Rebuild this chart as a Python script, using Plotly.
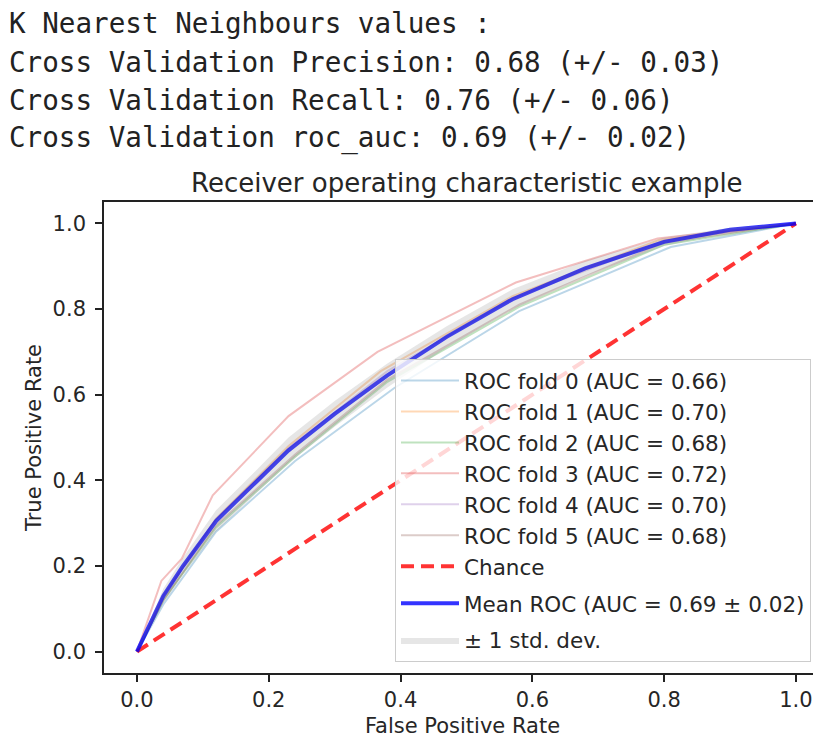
import plotly.graph_objects as go

# ---------------- data ----------------
header_lines = [
    "K Nearest Neighbours values :",
    "Cross Validation Precision: 0.68 (+/- 0.03)",
    "Cross Validation Recall: 0.76 (+/- 0.06)",
    "Cross Validation roc_auc: 0.69 (+/- 0.02)",
]

fold_names = [
    "ROC fold 0 (AUC = 0.66)",
    "ROC fold 1 (AUC = 0.70)",
    "ROC fold 2 (AUC = 0.68)",
    "ROC fold 3 (AUC = 0.72)",
    "ROC fold 4 (AUC = 0.70)",
    "ROC fold 5 (AUC = 0.68)",
]
fold0_fpr = [0, 0.04, 0.12, 0.24, 0.39, 0.58, 0.81, 1.0]
fold0_tpr = [0, 0.11, 0.28, 0.445, 0.615, 0.795, 0.945, 1.0]
fold1_fpr = [0, 0.04, 0.12, 0.23, 0.37, 0.57, 0.79, 1.0]
fold1_tpr = [0, 0.13, 0.31, 0.48, 0.655, 0.83, 0.96, 1.0]
fold2_fpr = [0, 0.04, 0.12, 0.24, 0.38, 0.58, 0.80, 1.0]
fold2_tpr = [0, 0.12, 0.29, 0.455, 0.63, 0.805, 0.95, 1.0]
fold3_fpr = [0, 0.037, 0.068, 0.115, 0.23, 0.365, 0.575, 0.79, 1.0]
fold3_tpr = [0, 0.165, 0.217, 0.365, 0.55, 0.70, 0.862, 0.965, 1.0]
fold4_fpr = [0, 0.04, 0.12, 0.23, 0.38, 0.57, 0.80, 1.0]
fold4_tpr = [0, 0.13, 0.31, 0.475, 0.655, 0.825, 0.96, 1.0]
fold5_fpr = [0, 0.04, 0.12, 0.24, 0.38, 0.58, 0.80, 1.0]
fold5_tpr = [0, 0.12, 0.295, 0.46, 0.635, 0.81, 0.955, 1.0]

chance_x = [0, 1]
chance_y = [0, 1]

mean_fpr = [0, 0.04, 0.07, 0.12, 0.18, 0.23, 0.30, 0.38, 0.47, 0.57, 0.68, 0.80, 0.90, 1.0]
mean_tpr = [0, 0.13, 0.20, 0.305, 0.395, 0.47, 0.555, 0.645, 0.735, 0.823, 0.895, 0.957, 0.985, 1.0]
std_tpr = [0, 0.017, 0.02, 0.025, 0.027, 0.03, 0.03, 0.028, 0.025, 0.023, 0.018, 0.01, 0.005, 0]

mean_label = "Mean ROC (AUC = 0.69 \u00b1 0.02)"
std_label = "\u00b1 1 std. dev."
chance_label = "Chance"

fold_colors = ["#1f77b4", "#ff7f0e", "#2ca02c", "#d62728", "#9467bd", "#8c564b"]

# ---------------- layout geometry ----------------
# the page body has an 8px margin, so figure pixel = reference pixel - 8
OFF = 8
W, H = 813, 738
L, R, T, B = 104 - OFF, 0, 202 - OFF, 73
PW = W - L - R
PH = H - T - B
x_px_per_unit = 659.0
x_range = [-0.05, -0.05 + PW / x_px_per_unit]


def px_x(px):  # reference page pixel -> paper x
    return (px - OFF - L) / PW


def px_y(py):  # reference page pixel -> paper y
    return (H - B - (py - OFF)) / PH


FONT = "DejaVu Sans"
TXT = "#262626"
FS = 21
LFS = 21.5

fig = go.Figure()

folds_x = [fold0_fpr, fold1_fpr, fold2_fpr, fold3_fpr, fold4_fpr, fold5_fpr]
folds_y = [fold0_tpr, fold1_tpr, fold2_tpr, fold3_tpr, fold4_tpr, fold5_tpr]
for i, (fx, fy) in enumerate(zip(folds_x, folds_y)):
    c = fold_colors[i]
    r, g, b = int(c[1:3], 16), int(c[3:5], 16), int(c[5:7], 16)
    fig.add_trace(go.Scatter(
        x=fx, y=fy, mode="lines", name=fold_names[i], legendgroup="a",
        line=dict(color=f"rgba({r},{g},{b},0.3)", width=2),
    ))

fig.add_trace(go.Scatter(
    x=chance_x, y=chance_y, mode="lines", name=chance_label, legendgroup="a",
    line=dict(color="rgba(255,0,0,0.8)", width=4, dash="13px,7px"),
))

fig.add_trace(go.Scatter(
    x=mean_fpr, y=mean_tpr, mode="lines", name=mean_label, legendgroup="m",
    line=dict(color="rgba(0,0,255,0.8)", width=4),
))

lower = [max(m - s, 0) for m, s in zip(mean_tpr, std_tpr)]
upper = [min(m + s, 1) for m, s in zip(mean_tpr, std_tpr)]
fig.add_trace(go.Scatter(
    x=mean_fpr, y=lower, mode="lines", line=dict(width=0, color="rgba(128,128,128,0)"),
    showlegend=False, legendgroup="s", hoverinfo="skip",
))
fig.add_trace(go.Scatter(
    x=mean_fpr, y=upper, mode="lines", fill="tonexty", name=std_label, legendgroup="s",
    fillcolor="rgba(128,128,128,0.2)", line=dict(width=0, color="rgba(128,128,128,0)"),
))

annotations = []
line_centers = [23, 62, 100, 138]
for text, cy in zip(header_lines, line_centers):
    annotations.append(dict(
        text=text, xref="paper", yref="paper", x=px_x(7), y=px_y(cy),
        xanchor="left", yanchor="middle", showarrow=False,
        font=dict(family="DejaVu Sans Mono", size=27.6, color="#222"),
    ))

annotations.append(dict(
    text="Receiver operating characteristic example", xref="paper", yref="paper",
    x=px_x(467), y=px_y(183), xanchor="center", yanchor="middle", showarrow=False,
    font=dict(family=FONT, size=26, color=TXT),
))

fig.update_layout(
    width=W, height=H,
    margin=dict(l=L, r=R, t=T, b=B, pad=0, autoexpand=False),
    paper_bgcolor="white", plot_bgcolor="white",
    font=dict(family=FONT, size=FS, color=TXT),
    annotations=annotations,
    showlegend=True,
    legend=dict(
        x=px_x(395), y=px_y(662), xanchor="left", yanchor="bottom",
        bgcolor="rgba(255,255,255,0.8)", bordercolor="#cccccc", borderwidth=1,
        font=dict(family=FONT, size=LFS, color=TXT),
        tracegroupgap=6, itemwidth=58, traceorder="grouped",
    ),
    xaxis=dict(
        range=x_range, tickvals=[0, 0.2, 0.4, 0.6, 0.8, 1.0], tickformat=".1f",
        showgrid=False, zeroline=False, showline=True, linecolor="#222", linewidth=1.6,
        mirror=True, ticks="outside", ticklen=7, tickwidth=1.6, tickcolor="#222",
        automargin=False,
        title=dict(text="False Positive Rate", font=dict(size=FS, color=TXT), standoff=7),
        tickfont=dict(size=FS, color=TXT),
    ),
    yaxis=dict(
        range=[-0.05, 1.05], tickvals=[0, 0.2, 0.4, 0.6, 0.8, 1.0], tickformat=".1f",
        showgrid=False, zeroline=False, showline=True, linecolor="#222", linewidth=1.6,
        mirror=False, ticks="outside", ticklen=7, tickwidth=1.6, tickcolor="#222",
        ticklabelstandoff=5, automargin=False,
        title=dict(text="True Positive Rate", font=dict(size=FS, color=TXT), standoff=5),
        tickfont=dict(size=FS, color=TXT),
    ),
)

fig.write_html("out.html")
